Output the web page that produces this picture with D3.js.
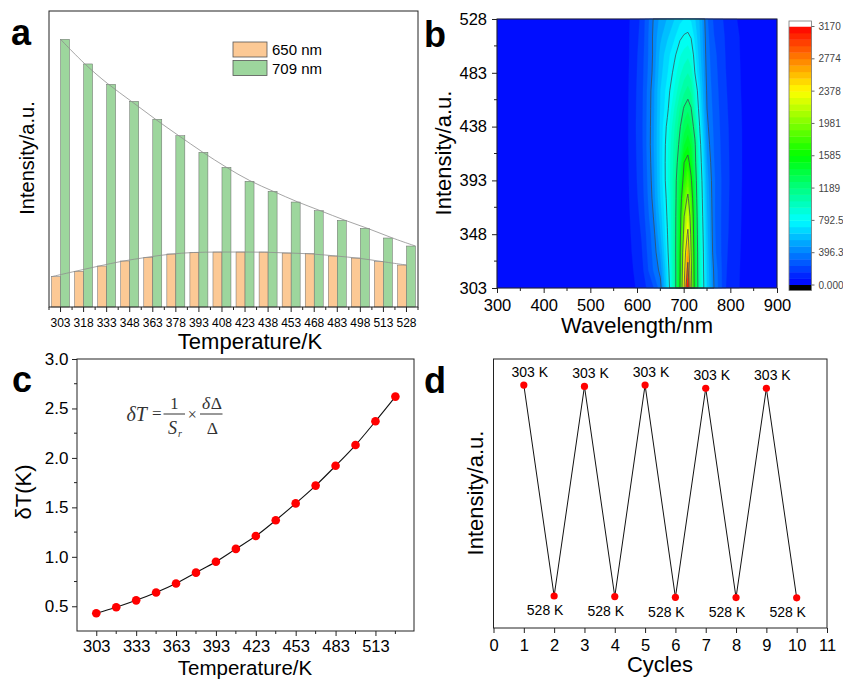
<!DOCTYPE html>
<html>
<head>
<meta charset="utf-8">
<script src="https://cdn.jsdelivr.net/npm/d3@7"></script>
<style>
body { margin: 0; background: #fff; }
text { font-family: "Liberation Sans", Arial, Helvetica, sans-serif; fill: #000; }
</style>
</head>
<body>
<svg id="chart" width="843" height="679"></svg>
<script>
// ---- panel a: peak intensities (a.u.) ----
var temps = ["303","318","333","348","363","378","393","408","423","438","453","468","483","498","513","528"];
var int650 = [359, 423, 485, 545, 588, 628, 648, 651, 651, 651, 639, 631, 604, 580, 536, 497];
var int709 = [3170, 2878, 2637, 2436, 2223, 2028, 1832, 1654, 1489, 1370, 1243, 1140, 1026, 932, 817, 722];

// ---- panel b: emission map, one spectrum per temperature ----
var mapWavelengths = [300, 540, 580, 610, 635, 650, 665, 680, 692, 701, 709, 716, 724, 735, 750, 765, 790, 830, 900];
var mapTemps = [303, 318, 333, 348, 363, 378, 393, 408, 423, 438, 453, 468, 483, 498, 513, 528];
var mapRows = [
  [0, 10, 40, 110, 230, 359, 676, 1056, 1585, 2378, 3170, 2090, 1472, 982, 638, 396, 160, 50, 0],
  [0, 12, 45, 130, 320, 423, 714, 1065, 1550, 2279, 2878, 2038, 1453, 972, 620, 380, 165, 52, 0],
  [0, 13, 50, 150, 340, 485, 756, 1079, 1536, 2219, 2637, 1981, 1436, 972, 603, 345, 170, 55, 0],
  [0, 14, 55, 165, 359, 545, 784, 1080, 1511, 2073, 2436, 1909, 1412, 955, 584, 335, 175, 58, 0],
  [0, 15, 60, 180, 396, 588, 807, 1081, 1486, 1981, 2223, 1849, 1387, 936, 563, 330, 178, 60, 0],
  [0, 16, 65, 195, 423, 628, 825, 1081, 1431, 1841, 2028, 1738, 1343, 918, 539, 330, 180, 62, 0],
  [0, 17, 68, 205, 438, 648, 853, 1083, 1387, 1667, 1832, 1616, 1308, 900, 512, 330, 182, 64, 0],
  [0, 18, 70, 210, 450, 651, 856, 1069, 1300, 1585, 1654, 1494, 1250, 864, 480, 320, 180, 65, 0],
  [0, 18, 72, 215, 460, 651, 847, 1052, 1230, 1420, 1489, 1410, 1220, 828, 446, 310, 178, 65, 0],
  [0, 19, 73, 218, 455, 651, 818, 1016, 1176, 1300, 1370, 1290, 1123, 769, 419, 300, 175, 65, 0],
  [0, 19, 72, 215, 450, 639, 767, 951, 1110, 1204, 1243, 1195, 990, 709, 396, 290, 170, 63, 0],
  [0, 19, 70, 212, 445, 631, 746, 880, 1010, 1090, 1140, 1090, 920, 660, 380, 280, 165, 60, 0],
  [0, 19, 68, 205, 420, 604, 705, 825, 930, 990, 1026, 985, 792, 610, 365, 270, 160, 58, 0],
  [0, 19, 65, 198, 410, 580, 680, 770, 860, 905, 932, 880, 740, 575, 355, 260, 155, 56, 0],
  [0, 19, 65, 185, 412, 536, 620, 700, 775, 805, 817, 785, 690, 555, 345, 240, 150, 54, 0],
  [0, 19, 62, 175, 400, 497, 560, 630, 690, 715, 722, 700, 640, 540, 330, 220, 140, 40, 0]
];
var mapMax = 3170;
var colorbarLabels = ["0.000", "396.3", "792.5", "1189", "1585", "1981", "2378", "2774", "3170"];
var mapTempTicks = [303, 348, 393, 438, 483, 528];

// ---- panel c: temperature resolution ----
var sensTemps = [303, 318, 333, 348, 363, 378, 393, 408, 423, 438, 453, 468, 483, 498, 513, 528];
var deltaT = [0.43, 0.49, 0.56, 0.64, 0.73, 0.84, 0.95, 1.08, 1.21, 1.37, 1.54, 1.72, 1.92, 2.13, 2.37, 2.62];

// ---- panel d: heating/cooling cycles ----
var cycles = [1, 2, 3, 4, 5, 6, 7, 8, 9, 10];
var cycleIntensity = [0.903, 0.119, 0.898, 0.117, 0.903, 0.114, 0.891, 0.113, 0.891, 0.112];
var cycleLabels = ["303 K", "528 K", "303 K", "528 K", "303 K", "528 K", "303 K", "528 K", "303 K", "528 K"];

var svg = d3.select("#chart");
var ink = "#222";

//style an axis group: drop the domain line, set tick colour and label size
function styleAxis(g, size) {
  g.select(".domain").remove();
  g.selectAll(".tick line").attr("stroke", ink);
  g.selectAll(".tick text").attr("font-size", size).attr("fill", "#000")
    .attr("font-family", '"Liberation Sans", Arial, sans-serif');
}

function frame(g, box) {
  g.append("rect").attr("x", box.left).attr("y", box.top)
    .attr("width", box.right - box.left).attr("height", box.bottom - box.top)
    .attr("fill", "none").attr("stroke", ink).attr("stroke-width", 1);
}

function minorX(g, xs, y, len) {
  g.selectAll(null).data(xs).enter().append("line")
    .attr("x1", function(d){return d;}).attr("x2", function(d){return d;})
    .attr("y1", y).attr("y2", y + len).attr("stroke", ink);
}

function minorY(g, ys, x, len) {
  g.selectAll(null).data(ys).enter().append("line")
    .attr("y1", function(d){return d;}).attr("y2", function(d){return d;})
    .attr("x1", x).attr("x2", x - len).attr("stroke", ink);
}

function yTitle(g, txt, x, y, size) {
  g.append("text").attr("transform", "translate(" + x + "," + y + ") rotate(-90)")
    .attr("text-anchor", "middle").attr("font-size", size).text(txt);
}

function xTitle(g, txt, x, y, size) {
  g.append("text").attr("x", x).attr("y", y).attr("text-anchor", "middle").attr("font-size", size).text(txt);
}

function letter(txt, x, y) {
  svg.append("text").attr("x", x).attr("y", y).attr("font-size", 36).attr("font-weight", "bold").text(txt);
}

//////// panel a
var boxA = {left: 49, right: 418, top: 11, bottom: 307};
var seriesA = [
  {name: "650 nm", values: int650, color: "#fcc995"},
  {name: "709 nm", values: int709, color: "#9dd69d"}
];
var xA = d3.scaleBand().domain(temps).range([boxA.left, boxA.right]).paddingInner(0.22).paddingOuter(0.11);
var xA1 = d3.scaleBand().domain(seriesA.map(function(s){return s.name;})).range([0, xA.bandwidth()]);
var yA = d3.scaleLinear().domain([0, 3505]).range([boxA.bottom, boxA.top]);
var gA = svg.append("g");

seriesA.forEach(function(s) {
  gA.selectAll(null).data(s.values).enter().append("rect")
    .attr("x", function(d, i){return xA(temps[i]) + xA1(s.name);})
    .attr("y", function(d){return yA(d);})
    .attr("width", xA1.bandwidth())
    .attr("height", function(d){return yA(0) - yA(d);})
    .attr("fill", s.color).attr("stroke", "#6a6a6a").attr("stroke-width", 0.5);
});

//fitted trend curves over the bars
seriesA.forEach(function(s) {
  var last = temps.length - 1;
  var fitX = d3.scaleLinear().domain([0, last])
    .range([xA(temps[0]) + xA1(s.name), xA(temps[last]) + xA1(s.name) + xA1.bandwidth()]);
  var line = d3.line().x(function(d, i){return fitX(i);}).y(function(d){return yA(d);}).curve(d3.curveBasis);
  gA.append("path").attr("d", line(s.values)).attr("fill", "none").attr("stroke", "#8e8e8e").attr("stroke-width", 0.8);
});

gA.append("g").attr("transform", "translate(0," + boxA.bottom + ")")
  .call(d3.axisBottom(xA).tickSize(5).tickSizeOuter(0).tickPadding(6.5))
  .call(styleAxis, 12);
minorX(gA, d3.range(temps.length + 1).map(function(i){return boxA.left + i * xA.step();}), boxA.bottom, 3);
frame(gA, boxA);

var legA = gA.append("g");
seriesA.forEach(function(s, i) {
  legA.append("rect").attr("x", 233).attr("y", 42 + i * 18.5).attr("width", 34).attr("height", 15)
    .attr("fill", s.color).attr("stroke", "#555").attr("stroke-width", 0.8);
  legA.append("text").attr("x", 272).attr("y", 55 + i * 18.5).attr("font-size", 15).text(s.name);
});
yTitle(gA, "Intensity/a.u.", 34, 158, 20);
xTitle(gA, "Temperature/K", 250, 349, 22);

//////// panel b
var boxB = {left: 497, right: 777, top: 19, bottom: 288};
var xB = d3.scaleLinear().domain([300, 900]).range([boxB.left, boxB.right]);
var yB = d3.scaleLinear().domain([303, 528]).range([boxB.bottom, boxB.top]);
var gB = svg.append("g");

var nx = mapWavelengths.length, ny = mapTemps.length;
var gridValues = [].concat.apply([], mapRows);
var colToWl = d3.scaleLinear().domain(d3.range(nx)).range(mapWavelengths).clamp(true);
var rowToT = d3.scaleLinear().domain(d3.range(ny)).range(mapTemps).clamp(true);
var gridPath = d3.geoPath(d3.geoTransform({
  point: function(x, y) { this.stream.point(xB(colToWl(x - 0.5)), yB(rowToT(y - 0.5))); }
}));

var nLevels = 40;
var levelStep = mapMax / nLevels;
var fillThresholds = d3.range(nLevels).map(function(k){return k * levelStep;});
var rainbow = d3.scaleLinear().domain([0, 0.25, 0.5, 0.75, 1])
  .range(["#0000ff", "#00ffff", "#00ff00", "#ffff00", "#ff0000"]);
function levelColor(k) { return rainbow((k + 0.5) / nLevels); }

var bands = d3.contours().size([nx, ny]).thresholds(fillThresholds)(gridValues);
gB.selectAll(null).data(bands).enter().append("path")
  .attr("d", gridPath)
  .attr("fill", function(d, k){return levelColor(k);})
  .attr("stroke", function(d, k){return levelColor(k);})
  .attr("stroke-width", 0.3);

var lineLevels = d3.range(1, 8).map(function(k){return k * mapMax / 8;});
var isoLines = d3.contours().size([nx, ny]).thresholds(lineLevels)(gridValues);
gB.selectAll(null).data(isoLines).enter().append("path")
  .attr("d", gridPath).attr("fill", "none")
  .attr("stroke", "#3c4a55").attr("stroke-width", 0.9).attr("stroke-opacity", 0.85);

gB.append("g").attr("transform", "translate(0," + boxB.bottom + ")")
  .call(d3.axisBottom(xB).tickValues(d3.range(300, 901, 100)).tickSize(5).tickSizeOuter(0).tickPadding(6))
  .call(styleAxis, 16.5);
minorX(gB, d3.range(350, 900, 100).map(xB), boxB.bottom, 3);
gB.append("g").attr("transform", "translate(" + boxB.left + ",0)")
  .call(d3.axisLeft(yB).tickValues(mapTempTicks).tickSize(5).tickSizeOuter(0).tickPadding(5))
  .call(styleAxis, 16.5);
minorY(gB, d3.range(325.5, 528, 45).map(yB), boxB.left, 3);
frame(gB, boxB);
yTitle(gB, "Intensity/a.u.", 451, 153, 22);
xTitle(gB, "Wavelength/nm", 637, 333, 22);

//colour scale bar
var cb = {left: 789, right: 811.5};
var yCb = d3.scaleLinear().domain([0, mapMax]).range([285, 26.5]);
var gCb = gB.append("g");
gCb.selectAll(null).data(fillThresholds).enter().append("rect")
  .attr("x", cb.left).attr("width", cb.right - cb.left)
  .attr("y", function(d){return yCb(d + levelStep);})
  .attr("height", function(){return yCb(0) - yCb(levelStep) + 0.4;})
  .attr("fill", function(d, k){return levelColor(k);});
gCb.append("rect").attr("x", cb.left).attr("width", cb.right - cb.left).attr("y", 21).attr("height", yCb(mapMax) - 21).attr("fill", "#fff");
gCb.append("rect").attr("x", cb.left).attr("width", cb.right - cb.left).attr("y", yCb(0)).attr("height", 5.5).attr("fill", "#000");
gCb.append("rect").attr("x", cb.left).attr("width", cb.right - cb.left).attr("y", 21).attr("height", yCb(0) + 5.5 - 21)
  .attr("fill", "none").attr("stroke", "#777").attr("stroke-width", 0.8);
var cbTicks = colorbarLabels.map(function(l, i){return i * mapMax / 8;});
gCb.selectAll(null).data(cbTicks).enter().append("line")
  .attr("x1", cb.right).attr("x2", cb.right + 3)
  .attr("y1", yCb).attr("y2", yCb).attr("stroke", "#666");
gCb.selectAll(null).data(cbTicks).enter().append("text")
  .attr("x", cb.right + 7).attr("y", function(d){return yCb(d) + 3.5;})
  .attr("font-size", 10).style("fill", "#444")
  .text(function(d, i){return colorbarLabels[i];});

//////// panel c
var boxC = {left: 77, right: 414, top: 359, bottom: 631};
var xC = d3.scaleLinear().domain([288.5, 542]).range([boxC.left, boxC.right]);
var yC = d3.scaleLinear().domain([0.25, 3.0]).range([boxC.bottom, boxC.top]);
var gC = svg.append("g");

var lineC = d3.line().x(function(d, i){return xC(sensTemps[i]);}).y(function(d){return yC(d);}).curve(d3.curveCatmullRom);
gC.append("path").attr("d", lineC(deltaT)).attr("fill", "none").attr("stroke", "#111").attr("stroke-width", 1.1);
gC.selectAll(null).data(deltaT).enter().append("circle")
  .attr("cx", function(d, i){return xC(sensTemps[i]);}).attr("cy", yC).attr("r", 4.3).attr("fill", "#ff0000");

gC.append("g").attr("transform", "translate(0," + boxC.bottom + ")")
  .call(d3.axisBottom(xC).tickValues(d3.range(303, 514, 30)).tickSize(5).tickSizeOuter(0).tickPadding(4))
  .call(styleAxis, 16.5);
minorX(gC, d3.range(318, 529, 30).map(xC), boxC.bottom, 3);
gC.append("g").attr("transform", "translate(" + boxC.left + ",0)")
  .call(d3.axisLeft(yC).tickValues(d3.range(0.5, 3.01, 0.5)).tickFormat(d3.format(".1f")).tickSize(5).tickSizeOuter(0).tickPadding(3.5))
  .call(styleAxis, 17);
minorY(gC, d3.range(0.75, 3, 0.5).map(yC), boxC.left, 3);
frame(gC, boxC);
yTitle(gC, "\u03b4T(K)", 31, 492, 22);
xTitle(gC, "Temperature/K", 245, 674.5, 20.5);

//formula, drawn piece by piece
var fm = gC.append("g");
var fcol = "#333";
function ftxt(t, x, y, size, italic, anchor) {
  fm.append("text").attr("x", x).attr("y", y).attr("font-size", size)
    .attr("font-style", italic ? "italic" : "normal").attr("text-anchor", anchor || "start")
    .style("font-family", '"Liberation Serif", "Times New Roman", serif').style("fill", fcol).text(t);
}
ftxt("\u03b4T", 126.5, 420.5, 20, true);
ftxt("=", 156.7, 419, 17, false, "middle");
fm.append("line").attr("x1", 163.5).attr("x2", 185).attr("y1", 414).attr("y2", 414).attr("stroke", fcol).attr("stroke-width", 1);
ftxt("1", 174.3, 408.5, 16.5, false, "middle");
ftxt("S", 168, 433.5, 18, true);
ftxt("r", 178, 436.5, 10, true);
ftxt("\u00d7", 192.3, 419.5, 16, false, "middle");
fm.append("line").attr("x1", 200).attr("x2", 222.5).attr("y1", 414).attr("y2", 414).attr("stroke", fcol).attr("stroke-width", 1);
ftxt("\u03b4", 206, 408.5, 17.5, true, "middle");
ftxt("\u0394", 216.3, 408.5, 17.5, false, "middle");
ftxt("\u0394", 212.3, 433.5, 17.5, false, "middle");

//////// panel d
var boxD = {left: 493.5, right: 827, top: 359, bottom: 628};
var xD = d3.scaleLinear().domain([0, 11]).range([boxD.left, boxD.right]);
var yD = d3.scaleLinear().domain([0, 1]).range([boxD.bottom, boxD.top]);
var gD = svg.append("g");

var lineD = d3.line().x(function(d, i){return xD(cycles[i]);}).y(function(d){return yD(d);});
gD.append("path").attr("d", lineD(cycleIntensity)).attr("fill", "none").attr("stroke", "#111").attr("stroke-width", 1);
gD.selectAll(null).data(cycleIntensity).enter().append("circle")
  .attr("cx", function(d, i){return xD(cycles[i]);}).attr("cy", yD).attr("r", 3.6).attr("fill", "#ff0000");
gD.selectAll(null).data(cycleIntensity).enter().append("text")
  .attr("x", function(d, i){return xD(cycles[i]) + (i % 2 === 0 ? 6 : -9);})
  .attr("y", function(d, i){return yD(d) + (i % 2 === 0 ? -8.5 : 19.3);})
  .attr("text-anchor", "middle").attr("font-size", 14)
  .text(function(d, i){return cycleLabels[i];});

gD.append("g").attr("transform", "translate(0," + boxD.bottom + ")")
  .call(d3.axisBottom(xD).ticks(11).tickSize(5).tickSizeOuter(0).tickPadding(6))
  .call(styleAxis, 16.5);
frame(gD, boxD);
yTitle(gD, "Intensity/a.u.", 482.5, 493, 22);
xTitle(gD, "Cycles", 660, 672, 22);

letter("a", 11, 45);
letter("b", 424, 47);
letter("c", 12, 392);
letter("d", 424, 393);
</script>
</body>
</html>
